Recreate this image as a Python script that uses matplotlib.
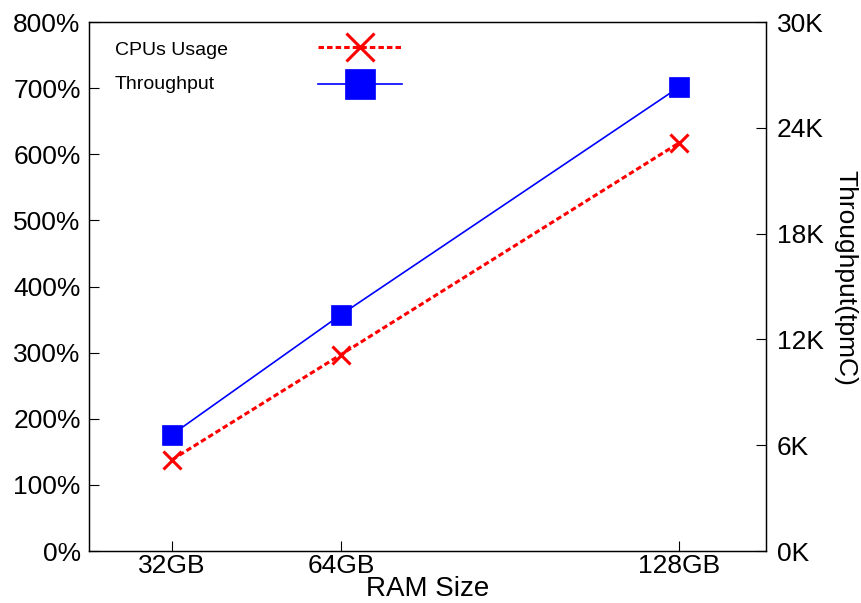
import matplotlib
matplotlib.use('Agg')
import matplotlib.pyplot as plt
import matplotlib.ticker as ticker

# RAM sizes (GB) and measured values
ram_gb = [32, 64, 128]
ram_labels = ['32GB', '64GB', '128GB']
cpu_usage = [138, 297, 617]          # percent
throughput = [6.6, 13.4, 26.3]       # thousand tpmC
legend_labels = ['CPUs Usage', 'Throughput']

plt.rcParams['font.family'] = ['Liberation Sans', 'DejaVu Sans']

fig = plt.figure(figsize=(8.62, 6.03), dpi=100)
ax = fig.add_axes([0.1033, 0.0862, 0.7853, 0.8773])
ax2 = ax.twinx()

l1, = ax.plot(ram_gb, cpu_usage, color='#ff0000', linestyle=(0, (1.8, 1.0)), linewidth=2.2,
              marker='x', markersize=13, markeredgewidth=2.2)
l2, = ax2.plot(ram_gb, throughput, color='#0000ff', linewidth=1.2,
               marker='s', markersize=14, markeredgewidth=0.5)

ax.set_xlim(16.3, 144.5)
ax.set_ylim(0, 800)
ax2.set_ylim(0, 30)

ax.set_xticks(ram_gb)
ax.set_xticklabels(ram_labels, fontsize=19)
ax.yaxis.set_major_locator(ticker.MultipleLocator(100))
ax.yaxis.set_major_formatter(ticker.FuncFormatter(lambda v, p: '%d%%' % v))
ax2.yaxis.set_major_locator(ticker.MultipleLocator(6))
ax2.yaxis.set_major_formatter(ticker.FuncFormatter(lambda v, p: '%dK' % v))

ax.tick_params(axis='both', direction='in', length=7, width=0.8, labelsize=19, pad=6)
ax.tick_params(axis='x', pad=2)
ax2.tick_params(axis='y', direction='in', length=7, width=0.8, labelsize=19, pad=8)

ax.set_xlabel('RAM Size', fontsize=20, labelpad=-1)
ax2.set_ylabel('Throughput(tpmC)', fontsize=19, rotation=270, labelpad=24)
ax2.yaxis.label.set_y(0.517)

for a in (ax, ax2):
    for s in a.spines.values():
        s.set_linewidth(0.9)

# legend: handles on the right, labels left-aligned as plain text
ax.legend(handles=[l1, l2], labels=['', ''], loc='upper left', bbox_to_anchor=(0.338, 0.966),
          frameon=False, fontsize=14, handlelength=4.33, handletextpad=0.0,
          markerscale=1.5, labelspacing=1.0, borderaxespad=0.0, borderpad=0.0)
ax.text(0.038, 0.947, legend_labels[0], transform=ax.transAxes, fontsize=14, va='center')
ax.text(0.038, 0.881, legend_labels[1], transform=ax.transAxes, fontsize=14, va='center')

fig.savefig('out.png', dpi=100)
